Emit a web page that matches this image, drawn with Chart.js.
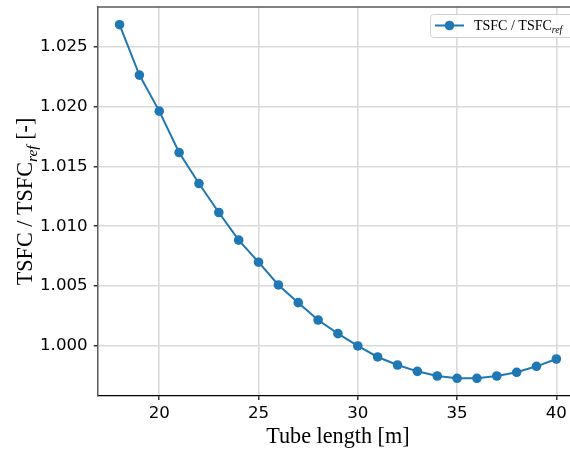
<!DOCTYPE html>
<html>
<head>
<meta charset="utf-8">
<script src="https://cdn.jsdelivr.net/npm/chart.js@4"></script>
<style>
html, body { margin: 0; padding: 0; background: #fff; overflow: hidden; width: 570px; height: 450px; }
#wrap { width: 590px; height: 450px; position: relative; }
</style>
</head>
<body>
<div id="wrap"><canvas id="c" width="590" height="450"></canvas></div>
<script>
// ---- data ----
const tubeLength = [18, 19, 20, 21, 22, 23, 24, 25, 26, 27, 28, 29, 30, 31, 32, 33, 34, 35, 36, 37, 38, 39, 40];
const tsfcRatio = [1.02684, 1.02263, 1.01962, 1.01616, 1.01357, 1.01115, 1.00884, 1.00700, 1.00510,
                   1.00362, 1.00217, 1.00103, 1.00000, 0.99908, 0.99841, 0.99788, 0.99749, 0.99730,
                   0.99730, 0.99749, 0.99780, 0.99830, 0.99891];
const xTicks = [20, 25, 30, 35, 40];
const yTicks = [1.000, 1.005, 1.010, 1.015, 1.020, 1.025];
const seriesLabel = 'TSFC / TSFC';
const seriesLabelSub = 'ref';
const xTitle = 'Tube length [m]';
const yTitleMain = 'TSFC / TSFC';
const yTitleSub = 'ref';
const yTitleTail = ' [-]';

const BLUE = '#1f77b4';
const SERIF = '"Liberation Serif", "Times New Roman", serif';

const decorPlugin = {
  id: 'decor',
  afterDraw(chart) {
    const ctx = chart.ctx;
    const a = chart.chartArea;
    ctx.save();
    // top and right spines
    ctx.strokeStyle = '#5a5a5a';
    ctx.lineWidth = 1.5;
    ctx.beginPath();
    ctx.moveTo(a.left - 0.75, a.top);
    ctx.lineTo(a.right, a.top);
    ctx.lineTo(a.right, a.bottom);
    ctx.stroke();

    // x title
    ctx.fillStyle = '#000';
    ctx.font = '22.2px ' + SERIF;
    ctx.textAlign = 'center';
    ctx.textBaseline = 'alphabetic';
    ctx.fillText(xTitle, (a.left + a.right) / 2, 443);

    // y title (rotated, with subscript)
    const mainFont = '22.2px ' + SERIF;
    const subFont = 'italic 15.5px ' + SERIF;
    ctx.font = mainFont;
    const w1 = ctx.measureText(yTitleMain).width;
    const w3 = ctx.measureText(yTitleTail).width;
    ctx.font = subFont;
    const w2 = ctx.measureText(yTitleSub).width;
    const total = w1 + w2 + w3;
    ctx.translate(32, (a.top + a.bottom) / 2);
    ctx.rotate(-Math.PI / 2);
    ctx.textAlign = 'left';
    let x0 = -total / 2;
    ctx.font = mainFont;
    ctx.fillText(yTitleMain, x0, 0);
    ctx.font = subFont;
    ctx.fillText(yTitleSub, x0 + w1, 4.5);
    ctx.font = mainFont;
    ctx.fillText(yTitleTail, x0 + w1 + w2, 0);
    ctx.restore();

    // legend
    ctx.save();
    const lx = 430, ly = 14, lw = 145, lh = 23;
    ctx.fillStyle = 'rgba(255,255,255,0.85)';
    ctx.strokeStyle = '#d0d0d0';
    ctx.lineWidth = 1;
    ctx.beginPath();
    ctx.roundRect(lx + 0.5, ly + 0.5, lw, lh, 3);
    ctx.fill();
    ctx.stroke();
    const cy = 25.5;
    ctx.strokeStyle = BLUE;
    ctx.lineWidth = 2;
    ctx.beginPath();
    ctx.moveTo(435, cy);
    ctx.lineTo(464, cy);
    ctx.stroke();
    ctx.fillStyle = BLUE;
    ctx.beginPath();
    ctx.arc(449.5, cy, 4.8, 0, Math.PI * 2);
    ctx.fill();
    ctx.fillStyle = '#000';
    ctx.font = '14px ' + SERIF;
    ctx.textAlign = 'left';
    ctx.textBaseline = 'alphabetic';
    ctx.fillText(seriesLabel, 474, 30);
    const tw = ctx.measureText(seriesLabel).width;
    ctx.font = 'italic 9.8px ' + SERIF;
    ctx.fillText(seriesLabelSub, 474 + tw, 33);
    ctx.restore();
  }
};

function zeroPad(s) {
  s.paddingTop = 0; s.paddingBottom = 0; s.paddingLeft = 0; s.paddingRight = 0;
}

new Chart(document.getElementById('c'), {
  type: 'line',
  data: {
    datasets: [{
      label: seriesLabel + seriesLabelSub,
      data: tubeLength.map((x, i) => ({ x: x, y: tsfcRatio[i] })),
      borderColor: BLUE,
      backgroundColor: BLUE,
      borderWidth: 2,
      pointRadius: 4.8,
      pointHoverRadius: 4.8,
      pointBorderWidth: 0,
      tension: 0,
      fill: false
    }]
  },
  options: {
    responsive: false,
    animation: false,
    events: [],
    layout: { padding: { left: 0, top: 7, right: 11.8, bottom: 0 } },
    plugins: { legend: { display: false }, tooltip: { enabled: false } },
    scales: {
      x: {
        type: 'linear',
        min: 16.9,
        max: 41.1,
        afterBuildTicks: s => { s.ticks = xTicks.map(v => ({ value: v })); },
        afterFit: s => { s.height = 54; zeroPad(s); },
        grid: { color: '#dadada', lineWidth: 1.6, tickColor: '#000', tickLength: 4, tickWidth: 1.2 },
        border: { display: true, color: '#000', width: 1.3 },
        ticks: {
          color: '#000',
          font: { family: '"DejaVu Sans"', size: 16.67 },
          padding: 4,
          maxRotation: 0,
          callback: v => String(v)
        }
      },
      y: {
        type: 'linear',
        min: 0.99582,
        max: 1.02832,
        afterBuildTicks: s => { s.ticks = yTicks.map(v => ({ value: v })); },
        afterFit: s => { s.width = 97.7; zeroPad(s); },
        grid: { color: '#dadada', lineWidth: 1.6, tickColor: '#000', tickLength: 4, tickWidth: 1.2 },
        border: { display: true, color: '#5a5a5a', width: 1.5 },
        ticks: {
          color: '#000',
          font: { family: '"DejaVu Sans"', size: 16.67 },
          padding: 6,
          callback: v => v.toFixed(3)
        }
      }
    }
  },
  plugins: [decorPlugin]
});
</script>
</body>
</html>
